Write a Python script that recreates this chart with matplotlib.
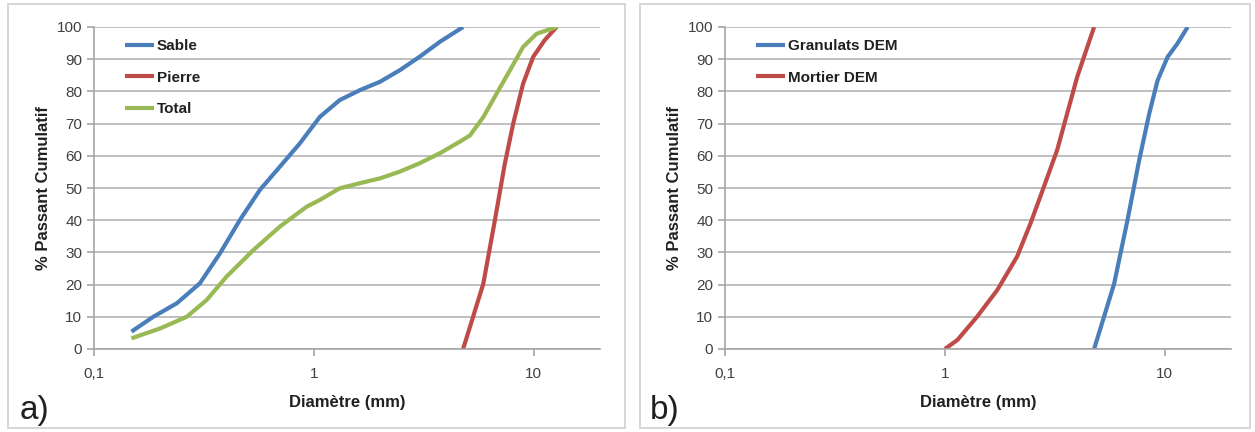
import matplotlib
matplotlib.use("Agg")
import matplotlib.pyplot as plt
from matplotlib.patches import Rectangle
from matplotlib.ticker import FixedLocator, NullLocator

plt.rcParams['font.family'] = ['Liberation Sans', 'DejaVu Sans']

# panel a)
sable_d = [0.148, 0.186, 0.238, 0.303, 0.374, 0.461, 0.568, 0.700, 0.864, 1.065, 1.31, 1.62, 2.0, 2.46,
           3.03, 3.74, 4.77]
sable_p = [5.4, 10.0, 14.2, 20.4, 29.7, 40.1, 49.4, 56.6, 63.9, 72.1, 77.3, 80.4, 83.0, 86.6, 90.8, 95.4, 100]
pierre_d = [4.77, 5.89, 6.65, 7.38, 8.06, 8.94, 9.93, 11.2, 12.7]
pierre_p = [0, 20.2, 39.9, 57.5, 70, 82.4, 90.7, 95.9, 100]
total_d = [0.148, 0.2, 0.264, 0.325, 0.401, 0.530, 0.700, 0.927, 1.065, 1.31, 1.62, 2.0, 2.46, 3.03, 3.74,
           4.61, 5.12, 5.89, 6.77, 7.78, 8.94, 10.3, 12.7]
total_p = [3.3, 6.4, 10.0, 15.2, 22.5, 30.7, 38, 44.2, 46.3, 49.9, 51.5, 53.0, 55.1, 57.7, 60.8, 64.4, 66.3,
           72, 79.3, 86.5, 93.8, 97.9, 100]

# panel b)
granulats_d = [4.77, 5.88, 6.76, 7.64, 8.49, 9.27, 10.3, 11.4, 12.7]
granulats_p = [0, 20.2, 39.9, 58.5, 73, 83.4, 90.7, 94.8, 100]
mortier_d = [1.0, 1.14, 1.40, 1.73, 2.13, 2.45, 2.82, 3.24, 3.60, 4.00, 4.77]
mortier_p = [0, 2.8, 10.0, 18.3, 28.7, 39.0, 50.4, 61.8, 73.2, 84.6, 100]

x_ticks = [0.1, 1, 10]
x_labels = ['0,1', '1', '10']
y_ticks = list(range(0, 101, 10))

blue = '#4a7ebb'
red = '#be4b48'
green = '#98b954'
grid_col = '#bfbfbf'

fig = plt.figure(figsize=(12.55, 4.32), dpi=100)

# light frames around each panel
fig.patches.append(Rectangle((8 / 1255, 4 / 432), 617 / 1255, 424 / 432, transform=fig.transFigure,
                             fill=False, edgecolor='#d0d0d0', lw=1.2))
fig.patches.append(Rectangle((640 / 1255, 4 / 432), 610 / 1255, 424 / 432, transform=fig.transFigure,
                             fill=False, edgecolor='#d0d0d0', lw=1.2))


def style_axes(ax):
    ax.set_xscale('log')
    ax.set_xlim(0.1, 20)
    ax.set_ylim(0, 100)
    ax.xaxis.set_major_locator(FixedLocator(x_ticks))
    ax.xaxis.set_minor_locator(NullLocator())
    ax.set_xticklabels(x_labels)
    ax.set_yticks(y_ticks)
    ax.grid(axis='y', color=grid_col, lw=1.4)
    ax.set_axisbelow(True)
    for s in ['top', 'right']:
        ax.spines[s].set_visible(False)
    for s in ['left', 'bottom']:
        ax.spines[s].set_color('#a6a6a6')
        ax.spines[s].set_linewidth(1.2)
    ax.tick_params(axis='both', colors='#a6a6a6', labelcolor='#404040', labelsize=11, length=5, width=1.2)
    ax.tick_params(axis='x', pad=8)
    ax.set_xlabel('Diamètre (mm)', fontsize=12, fontweight='bold', color='#202020', labelpad=10)
    ax.set_ylabel('% Passant Cumulatif', fontsize=12, fontweight='bold', color='#202020', labelpad=4)


line_kw = dict(lw=3, solid_joinstyle='round', solid_capstyle='butt')

ax1 = fig.add_axes([94 / 1255, 1 - 349 / 432, 506 / 1255, 322 / 432])
ax1.plot(sable_d, sable_p, color=blue, label='Sable', **line_kw)
ax1.plot(pierre_d, pierre_p, color=red, label='Pierre', **line_kw)
ax1.plot(total_d, total_p, color=green, label='Total', **line_kw)
style_axes(ax1)

ax2 = fig.add_axes([725 / 1255, 1 - 349 / 432, 506 / 1255, 322 / 432])
ax2.plot(granulats_d, granulats_p, color=blue, label='Granulats DEM', **line_kw)
ax2.plot(mortier_d, mortier_p, color=red, label='Mortier DEM', **line_kw)
style_axes(ax2)

for ax in (ax1, ax2):
    leg = ax.legend(loc='upper left', bbox_to_anchor=(0.035, 1.005), frameon=False, fontsize=11,
                    handlelength=1.9, handletextpad=0.15, labelspacing=1.15)
    for t in leg.get_texts():
        t.set_fontweight('bold')
        t.set_color('#202020')

fig.text(20 / 1255, 1 - 410 / 432, 'a)', fontsize=24, color='#202020', va='center')
fig.text(650 / 1255, 1 - 410 / 432, 'b)', fontsize=24, color='#202020', va='center')

fig.savefig('out.png', dpi=100)
